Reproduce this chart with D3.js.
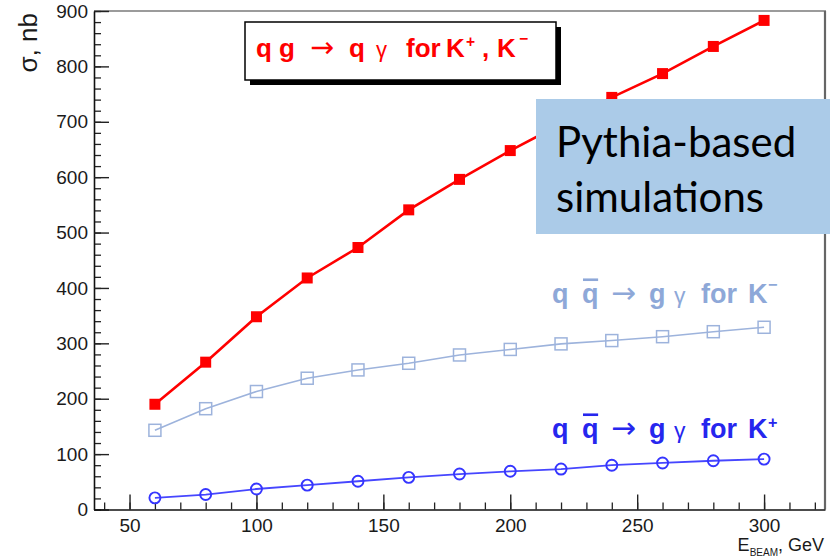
<!DOCTYPE html>
<html>
<head>
<meta charset="utf-8">
<script src="https://cdn.jsdelivr.net/npm/d3@7"></script>
<style>
  html, body { margin: 0; padding: 0; background: #ffffff; }
  svg { display: block; }
</style>
</head>
<body>
<svg id="chart" width="836" height="557"></svg>
<script>
// Beam energies (GeV) and cross sections (nb)
const beamEnergy   = [60, 80, 100, 120, 140, 160, 180, 200, 220, 240, 260, 280, 300];
const sigmaQG      = [190, 266, 348, 418, 473, 541, 596, 648, 696, 744, 787, 836, 883];
const sigmaQQbarKm = [143, 182, 213, 237, 252, 264, 279, 289, 299, 305, 312, 321, 329];
const sigmaQQbarKp = [21, 27, 37, 44, 51, 58, 64, 69, 73, 80, 84, 88, 91];

const yMajorTicks = [0, 100, 200, 300, 400, 500, 600, 700, 800, 900];
const xMajorTicks = [50, 100, 150, 200, 250, 300];
const yTitle = "σ, nb";
const noteLines = ["Pythia-based", "simulations"];

const svg = d3.select("#chart");
const frame = { left: 94, right: 825, top: 11, bottom: 509.5 };

const x = d3.scaleLinear().domain([36, 324]).range([frame.left, frame.right]);
const y = d3.scaleLinear().domain([0, 900]).range([frame.bottom, frame.top]);

const FONT = "'Liberation Sans', Arial, Helvetica, sans-serif";

// frame: grey top and right borders
svg.append("line").attr("x1", frame.left).attr("x2", frame.right + 1)
  .attr("y1", frame.top).attr("y2", frame.top)
  .attr("stroke", "#7a7a7a").attr("stroke-width", 1.5);
svg.append("line").attr("x1", frame.right).attr("x2", frame.right)
  .attr("y1", frame.top).attr("y2", frame.bottom)
  .attr("stroke", "#666").attr("stroke-width", 2.2);

// minor ticks
svg.append("g").attr("transform", `translate(${frame.left},0)`)
  .call(d3.axisLeft(y).tickValues(d3.range(0, 901, 20)).tickSizeInner(-7).tickSizeOuter(0).tickFormat(""))
  .call(g => g.select(".domain").remove())
  .call(g => g.selectAll("line").attr("stroke", "#222").attr("stroke-width", 1.3));
svg.append("g").attr("transform", `translate(0,${frame.bottom})`)
  .call(d3.axisBottom(x).tickValues(d3.range(40, 321, 10)).tickSizeInner(-7).tickSizeOuter(0).tickFormat(""))
  .call(g => g.select(".domain").remove())
  .call(g => g.selectAll("line").attr("stroke", "#222").attr("stroke-width", 1.3));

// major ticks + labels
const yAxisG = svg.append("g").attr("transform", `translate(${frame.left},0)`)
  .call(d3.axisLeft(y).tickValues(yMajorTicks).tickSizeInner(-15).tickSizeOuter(0).tickPadding(6).tickFormat(d3.format("d")));
const xAxisG = svg.append("g").attr("transform", `translate(0,${frame.bottom})`)
  .call(d3.axisBottom(x).tickValues(xMajorTicks).tickSizeInner(-15).tickSizeOuter(0).tickPadding(9).tickFormat(d3.format("d")));
[yAxisG, xAxisG].forEach(g => {
  g.select(".domain").attr("stroke", "#111").attr("stroke-width", 1.6);
  g.selectAll(".tick line").attr("stroke", "#222").attr("stroke-width", 1.4);
  g.selectAll(".tick text").attr("font-family", FONT).attr("font-size", 19).attr("fill", "#1a1a1a");
});

// axis titles
svg.append("text")
  .attr("transform", "translate(37,13) rotate(-90)")
  .attr("text-anchor", "end")
  .attr("font-family", FONT).attr("font-size", 26).attr("fill", "#1a1a1a")
  .text(yTitle);

const xt = svg.append("text").attr("x", 824).attr("y", 551).attr("text-anchor", "end")
  .attr("font-family", FONT).attr("font-size", 18).attr("fill", "#1a1a1a");
xt.append("tspan").text("E");
xt.append("tspan").attr("font-size", 10).attr("dy", 5).text("BEAM");
xt.append("tspan").attr("dy", -5).text(", GeV");

// series
const series = [
  { vals: sigmaQQbarKm, color: "#9db3dc", width: 1.6, marker: "openSquare" },
  { vals: sigmaQQbarKp, color: "#4646ff", width: 1.8, marker: "circle" },
  { vals: sigmaQG,      color: "#ff0000", width: 2.6, marker: "square" }
];
const line = d3.line().x(d => x(d.e)).y(d => y(d.v));

series.forEach(s => {
  const pts = beamEnergy.map((e, i) => ({ e, v: s.vals[i] }));
  svg.append("path").datum(pts).attr("d", line)
    .attr("fill", "none").attr("stroke", s.color).attr("stroke-width", s.width);
  const g = svg.append("g");
  if (s.marker === "square") {
    g.selectAll("rect").data(pts).join("rect")
      .attr("x", d => x(d.e) - 5.5).attr("y", d => y(d.v) - 5.5)
      .attr("width", 11).attr("height", 11).attr("fill", s.color);
  } else if (s.marker === "openSquare") {
    g.selectAll("rect").data(pts).join("rect")
      .attr("x", d => x(d.e) - 6).attr("y", d => y(d.v) - 6)
      .attr("width", 12).attr("height", 12)
      .attr("fill", "none").attr("stroke", s.color).attr("stroke-width", 1.5);
  } else {
    g.selectAll("circle").data(pts).join("circle")
      .attr("cx", d => x(d.e)).attr("cy", d => y(d.v)).attr("r", 5.5)
      .attr("fill", "none").attr("stroke", "#3535ff").attr("stroke-width", 1.9);
  }
});

// formula text made of positioned pieces
function formula(x0, base, size, color, pieces) {
  const g = svg.append("g").attr("fill", color).attr("font-family", FONT);
  pieces.forEach(p => {
    const kind = p.k || "b";
    const t = g.append("text").attr("x", x0 + p.at).attr("y", base + (p.up ? -p.up : 0)).text(p.t);
    if (kind === "b") t.attr("font-weight", "bold").attr("font-size", size);
    if (kind === "sym") t.attr("font-family", "'DejaVu Sans', sans-serif").attr("font-weight", "normal").attr("font-size", size * 1.1);
    if (kind === "greek") t.attr("font-weight", "normal").attr("font-size", size * 0.85);
    if (kind === "sup") t.attr("font-weight", "bold").attr("font-size", size * 0.6);
    if (p.bar) {
      g.append("rect").attr("x", x0 + p.at + 1).attr("y", base - size * 0.91)
        .attr("width", size * 0.56).attr("height", 2.6);
    }
  });
}

// legend box with shadow
svg.append("rect").attr("x", 250).attr("y", 27).attr("width", 311).attr("height", 58).attr("fill", "#000");
svg.append("rect").attr("x", 245).attr("y", 22).attr("width", 311).attr("height", 58)
  .attr("fill", "#fff").attr("stroke", "#000").attr("stroke-width", 1.5);
formula(256, 57, 26, "#ff0000", [
  { t: "q", at: 0 }, { t: "g", at: 23 }, { t: "→", at: 54, k: "sym" }, { t: "q", at: 93 },
  { t: "γ", at: 120, k: "greek" }, { t: "for", at: 150 }, { t: "K", at: 190 },
  { t: "+", at: 210, k: "sup", up: 10 }, { t: ",", at: 226 }, { t: "K", at: 241 },
  { t: "−", at: 263, k: "sup", up: 13 }
]);

const labelPieces = (sign) => [
  { t: "q", at: 0 }, { t: "q", at: 30, bar: true }, { t: "→", at: 59, k: "sym" }, { t: "g", at: 97 },
  { t: "γ", at: 122, k: "greek" }, { t: "for", at: 149 }, { t: "K", at: 196 },
  { t: sign, at: 216, k: "sup", up: sign === "+" ? 10 : 13 }
];
formula(552, 303, 27, "#8ea8d8", labelPieces("−"));
formula(552, 438, 27, "#2626ee", labelPieces("+"));

// note box
svg.append("rect").attr("x", 536).attr("y", 99).attr("width", 294).attr("height", 135).attr("fill", "#abcbe8");
noteLines.forEach((s, i) => {
  svg.append("text").attr("x", 556).attr("y", 157 + i * 55)
    .attr("font-family", "Lato, 'Open Sans', sans-serif").attr("font-size", 42).attr("fill", "#000")
    .text(s);
});
</script>
</body>
</html>
